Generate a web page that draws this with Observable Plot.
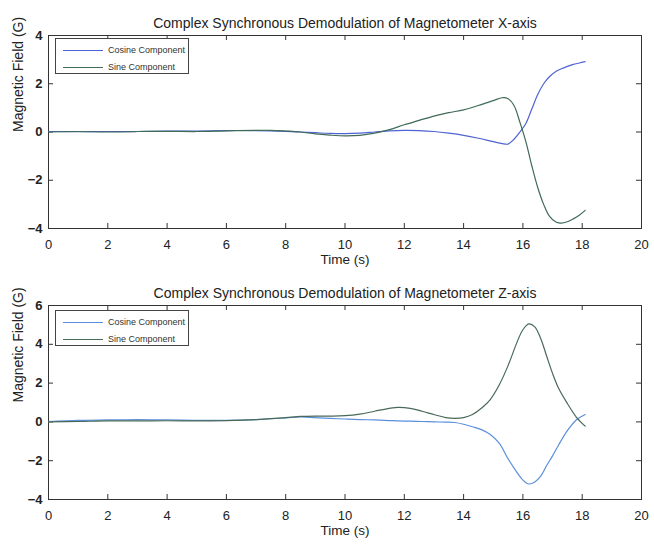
<!DOCTYPE html>
<html>
<head>
<meta charset="utf-8">
<script src="https://cdn.jsdelivr.net/npm/d3@7"></script>
<script src="https://cdn.jsdelivr.net/npm/@observablehq/plot@0.6"></script>
<style>
  html, body { margin: 0; padding: 0; background: #fff; }
  #wrap { position: relative; width: 654px; height: 546px; font-family: "Liberation Sans", Arial, sans-serif; }
  .legend { position: absolute; border: 1px solid #444; background: #fff; box-sizing: border-box; }
  .row { position: absolute; left: 0; height: 12px; font-size: 9px; color: #333; }
  .sw { position: absolute; left: 7px; width: 40px; height: 0; border-top: 1px solid; }
  .lab { position: absolute; left: 52px; top: -6px; white-space: nowrap; line-height: 12px; }
</style>
</head>
<body>
<div id="wrap"></div>
<script>
// ---- data ----
const xTicks = [0, 2, 4, 6, 8, 10, 12, 14, 16, 18, 20];
const yTicksX = [-4, -2, 0, 2, 4];
const yTicksZ = [-4, -2, 0, 2, 4, 6];
const seriesNames = ["Cosine Component", "Sine Component"];

const tX = [0, 1, 2, 3, 4, 5, 6, 7, 7.5, 8, 8.5, 9, 9.5, 10, 10.5, 11, 11.5, 12, 12.5, 13, 13.5, 14, 14.5, 15, 15.3, 15.5, 15.7, 15.9, 16.1, 16.3, 16.5, 16.7, 16.9, 17.1, 17.3, 17.5, 17.7, 17.9, 18.1];
const cosX = [0.02, 0.01, 0.02, 0.02, 0.04, 0.04, 0.06, 0.06, 0.05, 0.03, 0.0, -0.03, -0.06, -0.07, -0.05, 0.0, 0.05, 0.07, 0.06, 0.02, -0.05, -0.14, -0.26, -0.4, -0.48, -0.5, -0.3, 0.0, 0.35, 0.95, 1.55, 2.0, 2.3, 2.5, 2.62, 2.72, 2.8, 2.86, 2.92];
const sinX = [0.0, 0.02, 0.0, 0.02, 0.03, 0.02, 0.05, 0.07, 0.07, 0.04, 0.0, -0.08, -0.13, -0.16, -0.14, -0.05, 0.1, 0.3, 0.48, 0.66, 0.8, 0.92, 1.1, 1.3, 1.42, 1.38, 1.1, 0.4, -0.4, -1.4, -2.3, -3.0, -3.5, -3.72, -3.78, -3.72, -3.6, -3.45, -3.25];

const tZ = [0, 1, 2, 3, 4, 5, 6, 7, 8, 8.5, 9, 9.5, 10, 10.5, 11, 11.5, 11.8, 12.2, 12.6, 13, 13.4, 13.7, 14.0, 14.3, 14.6, 14.9, 15.2, 15.5, 15.8, 16.0, 16.2, 16.4, 16.6, 16.8, 17.0, 17.2, 17.5, 17.8, 18.1];
const cosZ = [0.02, 0.08, 0.1, 0.12, 0.1, 0.08, 0.08, 0.12, 0.2, 0.26, 0.22, 0.18, 0.15, 0.12, 0.1, 0.07, 0.05, 0.04, 0.02, 0.0, -0.01, -0.03, -0.12, -0.25, -0.4, -0.65, -1.1, -1.9, -2.6, -3.0, -3.2, -3.1, -2.8, -2.25, -1.75, -1.2, -0.45, 0.1, 0.38];
const sinZ = [0.0, 0.02, 0.05, 0.05, 0.06, 0.05, 0.07, 0.12, 0.22, 0.28, 0.3, 0.3, 0.32, 0.4, 0.55, 0.7, 0.75, 0.7, 0.55, 0.38, 0.22, 0.18, 0.22, 0.38, 0.7, 1.15, 1.9, 2.9, 4.1, 4.75, 5.05, 4.9, 4.3, 3.4, 2.5, 1.75, 0.95, 0.25, -0.22];

const colorsX = {cos: "#4f63d2", sin: "#3f6b57"};
const colorsZ = {cos: "#5b8fdc", sin: "#4a6a58"};

function rows(t, c, s) {
  return t.flatMap((v, i) => [{t: v, v: c[i], s: "cos"}, {t: v, v: s[i], s: "sin"}]);
}

function chart({title, t, c, s, yDomain, yTicks, marginTop, marginBottom, height, cols}) {
  const data = rows(t, c, s);
  const W = 654, mL = 48, mR = 13;
  const fw = W - mL - mR, fh = height - marginTop - marginBottom, tl = 5;
  const tickStyle = {stroke: "#333", strokeWidth: 1};
  return Plot.plot({
    width: W, height,
    marginLeft: mL, marginRight: mR, marginTop, marginBottom,
    style: {fontFamily: "Liberation Sans, Arial, sans-serif", fontSize: "13px", color: "#222", background: "#fff"},
    x: {domain: [0, 20], label: null},
    y: {domain: yDomain, label: null},
    marks: [
      Plot.frame({stroke: "#333", strokeWidth: 1}),
      // inward ticks on all four sides
      Plot.tickX(xTicks, {x: d => d, insetTop: fh - tl, ...tickStyle}),
      Plot.tickX(xTicks, {x: d => d, insetBottom: fh - tl, ...tickStyle}),
      Plot.tickY(yTicks, {y: d => d, insetRight: fw - tl, ...tickStyle}),
      Plot.tickY(yTicks, {y: d => d, insetLeft: fw - tl, ...tickStyle}),
      Plot.line(data.filter(d => d.s === "cos"), {x: "t", y: "v", stroke: cols.cos, strokeWidth: 1.2, curve: "catmull-rom"}),
      Plot.line(data.filter(d => d.s === "sin"), {x: "t", y: "v", stroke: cols.sin, strokeWidth: 1.2, curve: "catmull-rom"}),
      Plot.axisX({anchor: "bottom", ticks: xTicks, tickSize: 0, tickPadding: 11, label: null, fontSize: 13}),
      Plot.axisY({anchor: "left", ticks: yTicks, tickSize: 0, tickPadding: 6, label: null, fontSize: 13, fontWeight: "bold"}),
      Plot.text([title], {frameAnchor: "top", dy: -17, fontSize: 14, fill: "#222"}),
      Plot.text(["Time (s)"], {frameAnchor: "bottom", dy: 35, fontSize: 13.5, fill: "#222"}),
      Plot.text(["Magnetic Field (G)"], {frameAnchor: "left", dx: -30, rotate: -90, fontSize: 14, fill: "#222"})
    ]
  });
}

const wrap = document.getElementById("wrap");
const chartTop = chart({title: "Complex Synchronous Demodulation of Magnetometer X-axis", t: tX, c: cosX, s: sinX,
  yDomain: [-4, 4], yTicks: yTicksX, marginTop: 35, marginBottom: 45, height: 273, cols: colorsX});
const chartBot = chart({title: "Complex Synchronous Demodulation of Magnetometer Z-axis", t: tZ, c: cosZ, s: sinZ,
  yDomain: [-4, 6], yTicks: yTicksZ, marginTop: 32, marginBottom: 47, height: 273, cols: colorsZ});
chartTop.style.display = "block";
chartBot.style.display = "block";
wrap.appendChild(chartTop);
wrap.appendChild(chartBot);

function legend(left, topPx, cols) {
  const box = document.createElement("div");
  box.className = "legend";
  Object.assign(box.style, {left: left + "px", top: topPx + "px", width: "134px", height: "36px"});
  [["cos", 11], ["sin", 28]].forEach(([k, y], i) => {
    const r = document.createElement("div");
    r.className = "row";
    r.style.top = y + "px";
    const sw = document.createElement("div");
    sw.className = "sw";
    sw.style.borderTopColor = cols[k];
    const lb = document.createElement("div");
    lb.className = "lab";
    lb.textContent = seriesNames[i];
    r.appendChild(sw); r.appendChild(lb);
    box.appendChild(r);
  });
  wrap.appendChild(box);
}
legend(55, 38, colorsX);
legend(55, 310, colorsZ);
</script>
</body>
</html>
